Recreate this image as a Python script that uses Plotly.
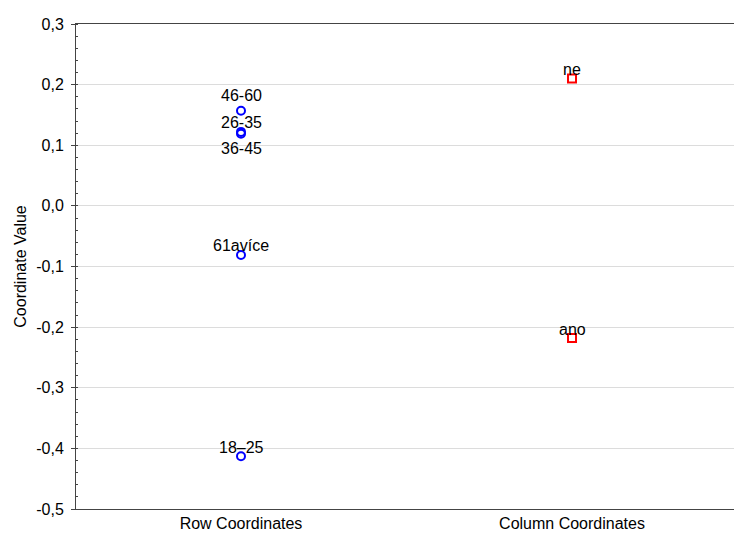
import plotly.graph_objects as go

# Correspondence analysis coordinates (dimension 1)
row_labels = ["46-60", "26-35", "36-45", "61avíce", "18–25"]
row_values = [0.157, 0.122, 0.119, -0.081, -0.413]
row_label_shift = [15, 9, -15, 9, 9]

col_labels = ["ne", "ano"]
col_values = [0.210, -0.218]
col_label_shift = [9, 9]

categories = ["Row Coordinates", "Column Coordinates"]

y_ticks = [0.3, 0.2, 0.1, 0.0, -0.1, -0.2, -0.3, -0.4, -0.5]
y_tick_text = ["0,3", "0,2", "0,1", "0,0", "-0,1", "-0,2", "-0,3", "-0,4", "-0,5"]

FONT = "Liberation Sans, Arial, sans-serif"
FS = 16

fig = go.Figure()
fig.add_trace(go.Scatter(
    x=[0] * len(row_values), y=row_values, mode="markers",
    marker=dict(symbol="circle-open", size=8, color="#0000ff",
                line=dict(width=2, color="#0000ff")),
    showlegend=False, hoverinfo="text", text=row_labels,
))
fig.add_trace(go.Scatter(
    x=[1] * len(col_values), y=col_values, mode="markers",
    marker=dict(symbol="square-open", size=8, color="#ff0000",
                line=dict(width=2, color="#ff0000")),
    showlegend=False, hoverinfo="text", text=col_labels,
))

for lab, val, sh in zip(row_labels, row_values, row_label_shift):
    fig.add_annotation(x=0, y=val, text=lab, showarrow=False, yshift=sh,
                       font=dict(family=FONT, size=FS, color="#000000"))
for lab, val, sh in zip(col_labels, col_values, col_label_shift):
    fig.add_annotation(x=1, y=val, text=lab, showarrow=False, yshift=sh,
                       font=dict(family=FONT, size=FS, color="#000000"))

fig.update_layout(
    width=734, height=536,
    margin=dict(l=76, r=0, t=24, b=27),
    plot_bgcolor="white", paper_bgcolor="white",
    font=dict(family=FONT, size=FS, color="#000000"),
    xaxis=dict(
        range=[-0.4985, 1.4894],
        tickvals=[0, 1], ticktext=categories,
        showgrid=False, zeroline=False,
        showline=True, linecolor="#444444", linewidth=1, mirror=True,
        ticks="", tickfont=dict(size=FS),
    ),
    yaxis=dict(
        range=[-0.5, 0.3],
        tickvals=y_ticks, ticktext=y_tick_text,
        showgrid=True, gridcolor="#dcdcdc", gridwidth=1,
        zeroline=False,
        showline=True, linecolor="#444444", linewidth=1, mirror=True,
        ticks="outside", ticklen=4, tickcolor="#444444",
        ticklabelstandoff=4,
        tickfont=dict(size=FS),
        minor=dict(dtick=0.02, tick0=0, ticks="inside", ticklen=2,
                   tickcolor="#444444", showgrid=False),
        title=dict(text="Coordinate Value", font=dict(size=FS), standoff=5),
    ),
)

fig.write_html("out.html")
